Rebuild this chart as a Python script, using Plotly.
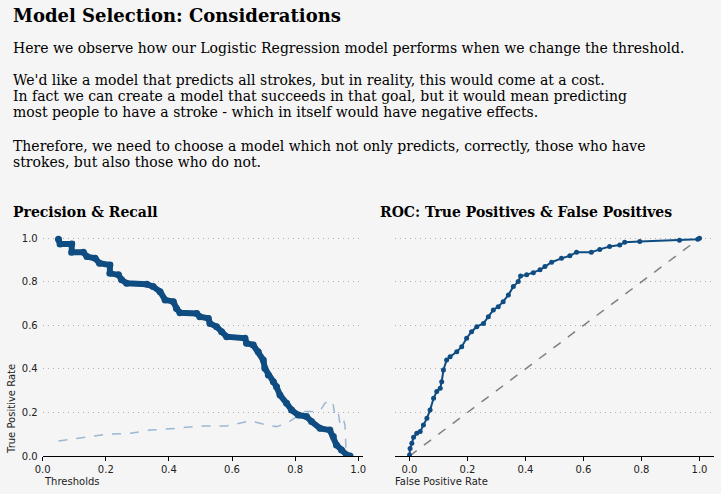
import plotly.graph_objects as go

W, H = 721, 494
BG = "#f6f5f5"
DARK = "#0f4c81"
LIGHT = "#9bb7d4"

# ---- data ----
recall_thr = [0.05, 0.055, 0.092, 0.092, 0.129, 0.14, 0.166, 0.18, 0.213, 0.213,
              0.24, 0.25, 0.266, 0.33, 0.35, 0.372, 0.388, 0.414, 0.424, 0.435,
              0.488, 0.498, 0.525, 0.53, 0.551, 0.567, 0.583, 0.641, 0.646, 0.667,
              0.683, 0.699, 0.704, 0.715, 0.731, 0.741, 0.752, 0.773, 0.789, 0.81,
              0.836, 0.852, 0.879, 0.91, 0.921, 0.931, 0.947, 0.963, 0.974]
recall = [0.995, 0.974, 0.974, 0.936, 0.936, 0.916, 0.908, 0.885, 0.877, 0.839,
          0.832, 0.81, 0.793, 0.789, 0.778, 0.755, 0.717, 0.709, 0.678, 0.658,
          0.655, 0.64, 0.632, 0.609, 0.594, 0.571, 0.548, 0.541, 0.518, 0.51,
          0.479, 0.441, 0.403, 0.372, 0.341, 0.318, 0.28, 0.242, 0.211, 0.188,
          0.181, 0.158, 0.127, 0.119, 0.089, 0.051, 0.028, 0.005, 0.0]

precision_thr = [0.05, 0.129, 0.203, 0.277, 0.34, 0.424, 0.498, 0.583, 0.657, 0.689,
                 0.71, 0.741, 0.773, 0.805, 0.826, 0.857, 0.879, 0.894, 0.91, 0.921,
                 0.926, 0.937, 0.942, 0.952, 0.958, 0.961, 0.963]
precision = [0.069, 0.084, 0.1, 0.104, 0.119, 0.127, 0.138, 0.138, 0.161, 0.15,
             0.142, 0.135, 0.15, 0.181, 0.204, 0.204, 0.207, 0.242, 0.257, 0.234,
             0.181, 0.196, 0.15, 0.173, 0.142, 0.035, 0.0]

fpr = [0.0, 0.002, 0.008, 0.014, 0.025, 0.037, 0.048, 0.06, 0.071, 0.083,
       0.094, 0.106, 0.111, 0.117, 0.128, 0.14, 0.163, 0.18, 0.197, 0.214,
       0.232, 0.255, 0.272, 0.289, 0.306, 0.323, 0.341, 0.358, 0.375, 0.383,
       0.404, 0.427, 0.45, 0.467, 0.49, 0.524, 0.553, 0.576, 0.627, 0.656,
       0.69, 0.725, 0.742, 0.794, 0.931, 0.994, 1.0]
tpr = [0.005, 0.035, 0.058, 0.086, 0.104, 0.112, 0.142, 0.173, 0.211, 0.265,
       0.296, 0.311, 0.341, 0.395, 0.441, 0.456, 0.479, 0.502, 0.541, 0.571,
       0.594, 0.609, 0.64, 0.671, 0.686, 0.709, 0.74, 0.778, 0.801, 0.827,
       0.832, 0.842, 0.855, 0.87, 0.89, 0.908, 0.92, 0.936, 0.936, 0.949,
       0.962, 0.969, 0.982, 0.985, 0.991, 0.995, 1.0]

diag = [0.0, 1.0]
y_ticks = [0.0, 0.2, 0.4, 0.6, 0.8, 1.0]
y_tick_text = ["0.0", "0.2", "0.4", "0.6", "0.8", "1.0"]
x_ticks = [0.0, 0.2, 0.4, 0.6, 0.8, 1.0]
x_tick_text = ["0.0", "0.2", "0.4", "0.6", "0.8", "1.0"]

title = "Model Selection: Considerations"
body_lines = [
    "Here we observe how our Logistic Regression model performs when we change the threshold.",
    "We'd like a model that predicts all strokes, but in reality, this would come at a cost.",
    "In fact we can create a model that succeeds in that goal, but it would mean predicting",
    "most people to have a stroke - which in itself would have negative effects.",
    "Therefore, we need to choose a model which not only predicts, correctly, those who have",
    "strokes, but also those who do not.",
]
body_y = [48, 80, 96, 112, 146, 162]


def px(x):
    return x / W


def py(y):
    return 1 - y / H


fig = go.Figure()

fig.add_trace(go.Scatter(x=precision_thr, y=precision, mode="lines",
                         line=dict(color=LIGHT, width=1.5, dash="dash"),
                         xaxis="x", yaxis="y", showlegend=False))
fig.add_trace(go.Scatter(x=recall_thr, y=recall, mode="lines+markers",
                         line=dict(color=DARK, width=6),
                         marker=dict(color=DARK, size=7),
                         xaxis="x", yaxis="y", showlegend=False))

fig.add_trace(go.Scatter(x=diag, y=diag, mode="lines",
                         line=dict(color="gray", width=1.5, dash="dash"),
                         xaxis="x2", yaxis="y2", showlegend=False))
fig.add_trace(go.Scatter(x=fpr, y=tpr, mode="lines+markers",
                         line=dict(color=DARK, width=2),
                         marker=dict(color=DARK, size=5),
                         xaxis="x2", yaxis="y2", showlegend=False))

ybot, ytop = py(456), py(227.4)
tickfont = dict(family="DejaVu Sans", size=10, color="#222222")

common_x = dict(showgrid=False, zeroline=False, showline=True, linecolor="black",
                linewidth=1, ticks="outside", ticklen=4, tickcolor="black",
                tickvals=x_ticks, ticktext=x_tick_text, tickfont=tickfont,
                automargin=False)
common_y = dict(showgrid=True, gridcolor="#b0b0b0", griddash="1px,4px", gridwidth=1,
                zeroline=False, showline=False, ticks="", tickvals=y_ticks,
                range=[0, 1.05], domain=[ybot, ytop], automargin=False)

fig.update_layout(
    template="none",
    width=W, height=H,
    margin=dict(l=0, r=0, t=0, b=0, pad=0, autoexpand=False),
    paper_bgcolor=BG, plot_bgcolor=BG,
    xaxis=dict(domain=[px(42.7), px(363.3)], range=[0, 1.016], anchor="y", **common_x),
    yaxis=dict(anchor="x", ticktext=y_tick_text, tickfont=tickfont,
               ticklabelstandoff=4, **common_y),
    xaxis2=dict(domain=[px(395), px(714)], range=[-0.05, 1.05], anchor="y2", **common_x),
    yaxis2=dict(anchor="x2", showticklabels=False, **common_y),
)

ann = []
ann.append(dict(text="<b>" + title + "</b>", x=px(11), y=py(15), xref="paper", yref="paper",
                xanchor="left", yanchor="middle", showarrow=False,
                font=dict(family="DejaVu Serif", size=18, color="black")))
for line, yy in zip(body_lines, body_y):
    ann.append(dict(text=line, x=px(11), y=py(yy), xref="paper", yref="paper",
                    xanchor="left", yanchor="middle", showarrow=False,
                    font=dict(family="DejaVu Serif", size=14, color="black")))
ann.append(dict(text="<b>Precision & Recall</b>", x=px(11), y=py(212), xref="paper",
                yref="paper", xanchor="left", yanchor="middle", showarrow=False,
                font=dict(family="DejaVu Serif", size=14, color="black")))
ann.append(dict(text="<b>ROC: True Positives & False Positives</b>", x=px(378), y=py(212),
                xref="paper", yref="paper", xanchor="left", yanchor="middle",
                showarrow=False, font=dict(family="DejaVu Serif", size=14, color="black")))
ann.append(dict(text="Thresholds", x=px(42), y=py(481), xref="paper", yref="paper",
                xanchor="left", yanchor="middle", showarrow=False,
                font=dict(family="DejaVu Sans", size=10, color="#222222")))
ann.append(dict(text="False Positive Rate", x=px(393), y=py(481), xref="paper", yref="paper",
                xanchor="left", yanchor="middle", showarrow=False,
                font=dict(family="DejaVu Sans", size=10, color="#222222")))
ann.append(dict(text="True Positive Rate", x=px(11), y=py(456), xref="paper", yref="paper",
                xanchor="center", yanchor="bottom", textangle=-90, showarrow=False,
                font=dict(family="DejaVu Sans", size=10, color="#222222")))
fig.update_layout(annotations=ann)

fig.write_html("out.html", config={"displayModeBar": False},
               post_script="document.body.style.margin='0';document.body.style.padding='0';")
